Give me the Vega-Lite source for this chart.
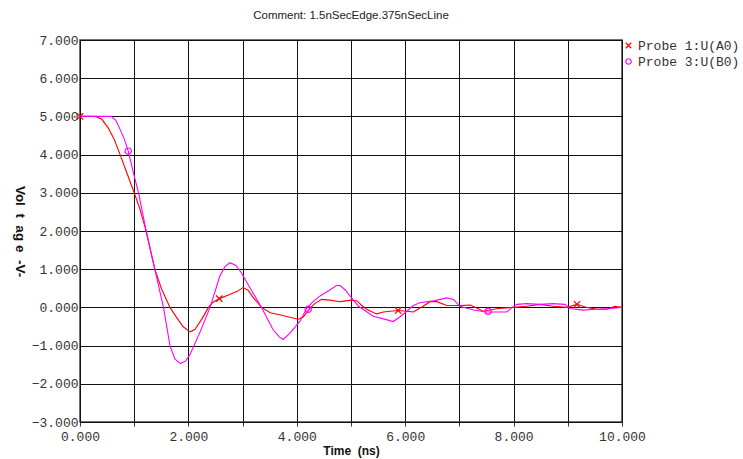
{
  "$schema": "https://vega.github.io/schema/vega-lite/v6.json",
  "width": 542,
  "height": 382,
  "autosize": {"type": "none"},
  "padding": {"left": 80, "top": 40, "right": 121, "bottom": 37},
  "background": "white",
  "title": {
    "text": "Comment: 1.5nSecEdge.375nSecLine",
    "font": "Liberation Sans",
    "fontSize": 11.5,
    "fontWeight": "normal",
    "color": "#222222",
    "offset": 13
  },
  "config": {
    "view": {"stroke": "#444444", "strokeWidth": 1.5},
    "axis": {
      "domain": false,
      "grid": true,
      "gridColor": "#111111",
      "gridWidth": 1,
      "gridOpacity": 1,
      "labelFont": "Liberation Mono",
      "labelFontSize": 13,
      "labelColor": "#333333",
      "titleFont": "Liberation Sans",
      "titleFontSize": 12,
      "titleFontWeight": "bold",
      "titleColor": "#111111"
    }
  },
  "datasets": {
    "traces": [
      {"probe": "Probe 1:U(A0)", "t": 0, "v": 5},
      {"probe": "Probe 1:U(A0)", "t": 0.28, "v": 5},
      {"probe": "Probe 1:U(A0)", "t": 0.4, "v": 4.93},
      {"probe": "Probe 1:U(A0)", "t": 0.52, "v": 4.7},
      {"probe": "Probe 1:U(A0)", "t": 0.63, "v": 4.4},
      {"probe": "Probe 1:U(A0)", "t": 0.74, "v": 4.0},
      {"probe": "Probe 1:U(A0)", "t": 0.87, "v": 3.5},
      {"probe": "Probe 1:U(A0)", "t": 1.0, "v": 3.0},
      {"probe": "Probe 1:U(A0)", "t": 1.1, "v": 2.6},
      {"probe": "Probe 1:U(A0)", "t": 1.2, "v": 2.1},
      {"probe": "Probe 1:U(A0)", "t": 1.3, "v": 1.5},
      {"probe": "Probe 1:U(A0)", "t": 1.38, "v": 1.0},
      {"probe": "Probe 1:U(A0)", "t": 1.5, "v": 0.5},
      {"probe": "Probe 1:U(A0)", "t": 1.66, "v": 0.0},
      {"probe": "Probe 1:U(A0)", "t": 1.8, "v": -0.3},
      {"probe": "Probe 1:U(A0)", "t": 1.9, "v": -0.5},
      {"probe": "Probe 1:U(A0)", "t": 2.03, "v": -0.64},
      {"probe": "Probe 1:U(A0)", "t": 2.12, "v": -0.58},
      {"probe": "Probe 1:U(A0)", "t": 2.25, "v": -0.3},
      {"probe": "Probe 1:U(A0)", "t": 2.37, "v": 0.0},
      {"probe": "Probe 1:U(A0)", "t": 2.45, "v": 0.13},
      {"probe": "Probe 1:U(A0)", "t": 2.57, "v": 0.23},
      {"probe": "Probe 1:U(A0)", "t": 2.75, "v": 0.33},
      {"probe": "Probe 1:U(A0)", "t": 2.9, "v": 0.42},
      {"probe": "Probe 1:U(A0)", "t": 3.01, "v": 0.52},
      {"probe": "Probe 1:U(A0)", "t": 3.1, "v": 0.45},
      {"probe": "Probe 1:U(A0)", "t": 3.2, "v": 0.25},
      {"probe": "Probe 1:U(A0)", "t": 3.35, "v": 0.0},
      {"probe": "Probe 1:U(A0)", "t": 3.51, "v": -0.14},
      {"probe": "Probe 1:U(A0)", "t": 3.7, "v": -0.2},
      {"probe": "Probe 1:U(A0)", "t": 3.85, "v": -0.25},
      {"probe": "Probe 1:U(A0)", "t": 4.03, "v": -0.31},
      {"probe": "Probe 1:U(A0)", "t": 4.12, "v": -0.25},
      {"probe": "Probe 1:U(A0)", "t": 4.21, "v": -0.08},
      {"probe": "Probe 1:U(A0)", "t": 4.33, "v": 0.1},
      {"probe": "Probe 1:U(A0)", "t": 4.46, "v": 0.21},
      {"probe": "Probe 1:U(A0)", "t": 4.61, "v": 0.19},
      {"probe": "Probe 1:U(A0)", "t": 4.8, "v": 0.15},
      {"probe": "Probe 1:U(A0)", "t": 5.01, "v": 0.19},
      {"probe": "Probe 1:U(A0)", "t": 5.11, "v": 0.17},
      {"probe": "Probe 1:U(A0)", "t": 5.2, "v": 0.05},
      {"probe": "Probe 1:U(A0)", "t": 5.29, "v": -0.05},
      {"probe": "Probe 1:U(A0)", "t": 5.47, "v": -0.17},
      {"probe": "Probe 1:U(A0)", "t": 5.6, "v": -0.12},
      {"probe": "Probe 1:U(A0)", "t": 5.72, "v": -0.1},
      {"probe": "Probe 1:U(A0)", "t": 5.87, "v": -0.08},
      {"probe": "Probe 1:U(A0)", "t": 6.03, "v": -0.1},
      {"probe": "Probe 1:U(A0)", "t": 6.15, "v": -0.12},
      {"probe": "Probe 1:U(A0)", "t": 6.33, "v": 0.03},
      {"probe": "Probe 1:U(A0)", "t": 6.46, "v": 0.15},
      {"probe": "Probe 1:U(A0)", "t": 6.58, "v": 0.15},
      {"probe": "Probe 1:U(A0)", "t": 6.77, "v": 0.05},
      {"probe": "Probe 1:U(A0)", "t": 7.01, "v": 0.05},
      {"probe": "Probe 1:U(A0)", "t": 7.2, "v": 0.06},
      {"probe": "Probe 1:U(A0)", "t": 7.44, "v": -0.1},
      {"probe": "Probe 1:U(A0)", "t": 7.72, "v": -0.03},
      {"probe": "Probe 1:U(A0)", "t": 8.0, "v": 0.0},
      {"probe": "Probe 1:U(A0)", "t": 8.24, "v": 0.03},
      {"probe": "Probe 1:U(A0)", "t": 8.49, "v": 0.08},
      {"probe": "Probe 1:U(A0)", "t": 8.73, "v": 0.03},
      {"probe": "Probe 1:U(A0)", "t": 8.98, "v": 0.0},
      {"probe": "Probe 1:U(A0)", "t": 9.17, "v": 0.08},
      {"probe": "Probe 1:U(A0)", "t": 9.35, "v": 0.0},
      {"probe": "Probe 1:U(A0)", "t": 9.53, "v": -0.05},
      {"probe": "Probe 1:U(A0)", "t": 9.72, "v": -0.05},
      {"probe": "Probe 1:U(A0)", "t": 9.87, "v": 0.03},
      {"probe": "Probe 1:U(A0)", "t": 10, "v": 0},
      {"probe": "Probe 3:U(B0)", "t": 0, "v": 5},
      {"probe": "Probe 3:U(B0)", "t": 0.58, "v": 5},
      {"probe": "Probe 3:U(B0)", "t": 0.66, "v": 4.9},
      {"probe": "Probe 3:U(B0)", "t": 0.74, "v": 4.66},
      {"probe": "Probe 3:U(B0)", "t": 0.82, "v": 4.4},
      {"probe": "Probe 3:U(B0)", "t": 0.89, "v": 4.09},
      {"probe": "Probe 3:U(B0)", "t": 1.0, "v": 3.44},
      {"probe": "Probe 3:U(B0)", "t": 1.08, "v": 3.0},
      {"probe": "Probe 3:U(B0)", "t": 1.2, "v": 2.15},
      {"probe": "Probe 3:U(B0)", "t": 1.3, "v": 1.5},
      {"probe": "Probe 3:U(B0)", "t": 1.38, "v": 1.0},
      {"probe": "Probe 3:U(B0)", "t": 1.54, "v": 0.0},
      {"probe": "Probe 3:U(B0)", "t": 1.66, "v": -1.0},
      {"probe": "Probe 3:U(B0)", "t": 1.75, "v": -1.35},
      {"probe": "Probe 3:U(B0)", "t": 1.85, "v": -1.47},
      {"probe": "Probe 3:U(B0)", "t": 1.95, "v": -1.4},
      {"probe": "Probe 3:U(B0)", "t": 2.03, "v": -1.23},
      {"probe": "Probe 3:U(B0)", "t": 2.21, "v": -0.66},
      {"probe": "Probe 3:U(B0)", "t": 2.4, "v": 0.0},
      {"probe": "Probe 3:U(B0)", "t": 2.58, "v": 0.82},
      {"probe": "Probe 3:U(B0)", "t": 2.68, "v": 1.08},
      {"probe": "Probe 3:U(B0)", "t": 2.77, "v": 1.17},
      {"probe": "Probe 3:U(B0)", "t": 2.88, "v": 1.1},
      {"probe": "Probe 3:U(B0)", "t": 2.98, "v": 0.9},
      {"probe": "Probe 3:U(B0)", "t": 3.1, "v": 0.6},
      {"probe": "Probe 3:U(B0)", "t": 3.35, "v": 0.0},
      {"probe": "Probe 3:U(B0)", "t": 3.56, "v": -0.58},
      {"probe": "Probe 3:U(B0)", "t": 3.68, "v": -0.78},
      {"probe": "Probe 3:U(B0)", "t": 3.75, "v": -0.84},
      {"probe": "Probe 3:U(B0)", "t": 3.87, "v": -0.68},
      {"probe": "Probe 3:U(B0)", "t": 4.06, "v": -0.36},
      {"probe": "Probe 3:U(B0)", "t": 4.18, "v": -0.03},
      {"probe": "Probe 3:U(B0)", "t": 4.3, "v": 0.15},
      {"probe": "Probe 3:U(B0)", "t": 4.43, "v": 0.3},
      {"probe": "Probe 3:U(B0)", "t": 4.6, "v": 0.45},
      {"probe": "Probe 3:U(B0)", "t": 4.74, "v": 0.58},
      {"probe": "Probe 3:U(B0)", "t": 4.8, "v": 0.57},
      {"probe": "Probe 3:U(B0)", "t": 4.9, "v": 0.45},
      {"probe": "Probe 3:U(B0)", "t": 4.98, "v": 0.3},
      {"probe": "Probe 3:U(B0)", "t": 5.14, "v": 0.03},
      {"probe": "Probe 3:U(B0)", "t": 5.41, "v": -0.23},
      {"probe": "Probe 3:U(B0)", "t": 5.6, "v": -0.3},
      {"probe": "Probe 3:U(B0)", "t": 5.78, "v": -0.37},
      {"probe": "Probe 3:U(B0)", "t": 5.9, "v": -0.25},
      {"probe": "Probe 3:U(B0)", "t": 6.03, "v": -0.1},
      {"probe": "Probe 3:U(B0)", "t": 6.15, "v": 0.05},
      {"probe": "Probe 3:U(B0)", "t": 6.27, "v": 0.12},
      {"probe": "Probe 3:U(B0)", "t": 6.52, "v": 0.17},
      {"probe": "Probe 3:U(B0)", "t": 6.77, "v": 0.25},
      {"probe": "Probe 3:U(B0)", "t": 6.89, "v": 0.21},
      {"probe": "Probe 3:U(B0)", "t": 7.01, "v": 0.03},
      {"probe": "Probe 3:U(B0)", "t": 7.26, "v": -0.07},
      {"probe": "Probe 3:U(B0)", "t": 7.5, "v": -0.12},
      {"probe": "Probe 3:U(B0)", "t": 7.87, "v": -0.12},
      {"probe": "Probe 3:U(B0)", "t": 7.98, "v": 0.0},
      {"probe": "Probe 3:U(B0)", "t": 8.06, "v": 0.08},
      {"probe": "Probe 3:U(B0)", "t": 8.24, "v": 0.1},
      {"probe": "Probe 3:U(B0)", "t": 8.49, "v": 0.08},
      {"probe": "Probe 3:U(B0)", "t": 8.73, "v": 0.1},
      {"probe": "Probe 3:U(B0)", "t": 8.95, "v": 0.08},
      {"probe": "Probe 3:U(B0)", "t": 9.04, "v": -0.03},
      {"probe": "Probe 3:U(B0)", "t": 9.28, "v": -0.07},
      {"probe": "Probe 3:U(B0)", "t": 9.53, "v": -0.05},
      {"probe": "Probe 3:U(B0)", "t": 9.78, "v": -0.03},
      {"probe": "Probe 3:U(B0)", "t": 10, "v": 0}
    ],
    "markers": [
      {"probe": "Probe 1:U(A0)", "t": 0, "v": 5},
      {"probe": "Probe 1:U(A0)", "t": 2.57, "v": 0.23},
      {"probe": "Probe 1:U(A0)", "t": 5.87, "v": -0.08},
      {"probe": "Probe 1:U(A0)", "t": 9.17, "v": 0.08},
      {"probe": "Probe 3:U(B0)", "t": 0.89, "v": 4.09},
      {"probe": "Probe 3:U(B0)", "t": 4.21, "v": -0.05},
      {"probe": "Probe 3:U(B0)", "t": 7.53, "v": -0.1}
    ]
  },
  "encoding": {
    "x": {
      "field": "t",
      "type": "quantitative",
      "scale": {"domain": [0, 10], "nice": false, "zero": false},
      "axis": {
        "title": "Time\u00a0\u00a0(ns)",
        "values": [0, 1, 2, 3, 4, 5, 6, 7, 8, 9, 10],
        "labelExpr": "datum.value % 2 == 0 ? format(datum.value, '.3f') : ''",
        "labelFlush": false,
        "tickSize": 4,
        "tickColor": "#333333",
        "labelPadding": 4,
        "titlePadding": 2
      }
    },
    "y": {
      "field": "v",
      "type": "quantitative",
      "scale": {"domain": [-3, 7], "nice": false, "zero": false},
      "axis": {
        "title": "Vol\u00a0\u00a0t\u00a0\u00a0ag\u00a0e\u00a0\u00a0-V-",
        "titleAngle": 90,
        "titleFontSize": 13.5,
        "titlePadding": 19,
        "values": [-3, -2, -1, 0, 1, 2, 3, 4, 5, 6, 7],
        "format": ".3f",
        "labelFlush": false,
        "ticks": false,
        "labelPadding": 2
      }
    },
    "color": {
      "field": "probe",
      "type": "nominal",
      "scale": {"domain": ["Probe 1:U(A0)", "Probe 3:U(B0)"], "range": ["#ff0000", "#ff00ff"]},
      "legend": {
        "title": null,
        "orient": "none",
        "legendX": 542,
        "legendY": -1,
        "labelFont": "Liberation Mono",
        "labelFontSize": 13,
        "labelColor": "#333333",
        "labelOffset": 3,
        "rowPadding": 2,
        "symbolSize": 30,
        "symbolStrokeWidth": 1.2,
        "symbolType": "circle"
      }
    }
  },
  "layer": [
    {
      "data": {"name": "traces"},
      "mark": {"type": "line", "strokeWidth": 1.1}
    },
    {
      "data": {"name": "markers"},
      "mark": {"type": "point", "filled": false, "strokeWidth": 1.2, "size": 40, "opacity": 1},
      "encoding": {
        "shape": {
          "field": "probe",
          "type": "nominal",
          "scale": {"domain": ["Probe 1:U(A0)", "Probe 3:U(B0)"], "range": ["M-1,-1L1,1M-1,1L1,-1", "circle"]},
          "legend": {
            "title": null,
            "orient": "none",
            "legendX": 542,
            "legendY": -1,
            "labelFont": "Liberation Mono",
            "labelFontSize": 13,
            "labelColor": "#333333",
            "labelOffset": 3,
            "rowPadding": 2,
            "symbolSize": 30,
            "symbolStrokeWidth": 1.2
          }
        }
      }
    }
  ]
}
